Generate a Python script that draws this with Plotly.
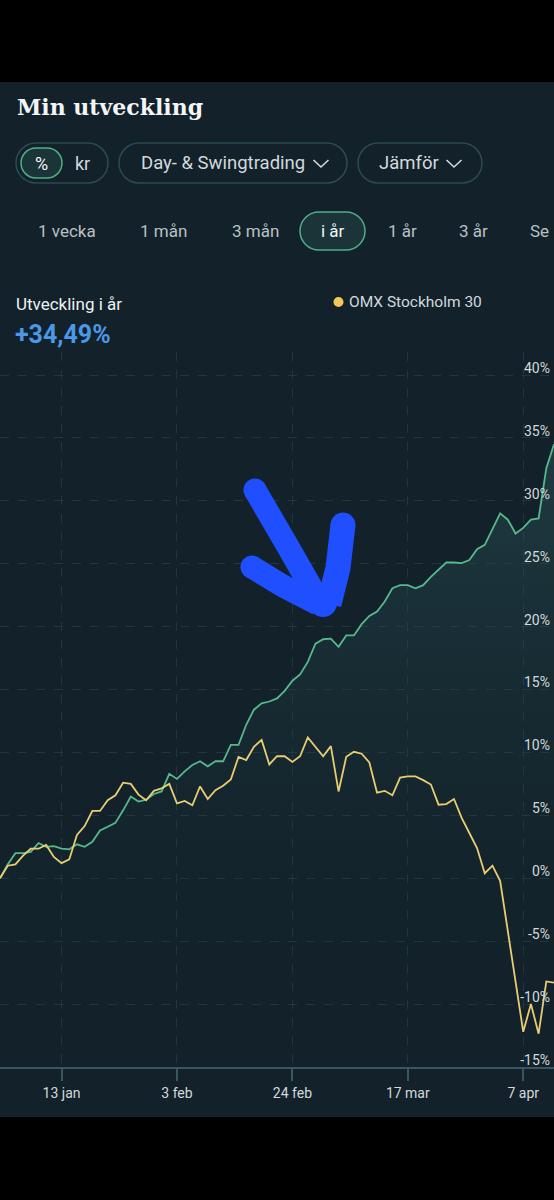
import pandas as pd
import plotly.graph_objects as go

# ---------------- data ----------------
dates = pd.bdate_range("2025-01-01", "2025-04-11")
categories = [d.strftime("%Y-%m-%d") for d in dates]

portfolio = [0.0, 1.1, 2.0, 2.0, 2.1, 2.8, 2.5, 2.55, 2.35, 2.3,
             2.7, 2.5, 2.9, 3.8, 4.1, 4.4, 5.4, 6.5, 6.1, 6.25,
             6.7, 6.9, 8.3, 7.9, 8.5, 9.0, 9.3, 8.9, 9.3, 9.3,
             10.6, 10.6, 12.2, 13.4, 13.9, 14.05, 14.3, 14.9, 15.7, 16.2,
             17.2, 18.65, 19.0, 19.05, 18.4, 19.3, 19.3, 20.2, 20.85, 21.2,
             22.0, 23.05, 23.3, 23.3, 23.05, 23.3, 23.95, 24.5, 25.1, 25.1,
             25.05, 25.3, 26.15, 26.5, 27.7, 29.0, 28.5, 27.4, 27.85, 28.5,
             28.6, 32.6, 34.49]

omx = [0.0, 1.0, 1.1, 1.8, 2.35, 2.35, 2.65, 1.7, 1.2, 1.5,
       3.45, 4.15, 5.35, 5.35, 6.2, 6.6, 7.6, 7.5, 6.65, 6.2,
       6.95, 7.15, 7.5, 5.95, 6.15, 5.8, 7.3, 6.3, 7.0, 7.35,
       7.85, 9.65, 9.4, 10.45, 11.0, 9.05, 9.7, 9.7, 9.25, 9.7,
       11.2, 10.45, 9.7, 10.5, 6.9, 9.65, 10.05, 9.9, 9.2, 6.8,
       6.95, 6.6, 8.0, 8.1, 8.1, 7.8, 7.45, 5.85, 5.9, 6.3,
       4.8, 3.6, 2.4, 0.4, 1.0, -0.2, -4.2, -8.4, -12.2, -10.0,
       -12.35, -8.2, -8.3]

x_tick_dates = ["2025-01-13", "2025-02-03", "2025-02-24", "2025-03-17", "2025-04-07"]
x_tick_labels = ["13 jan", "3 feb", "24 feb", "17 mar", "7 apr"]
y_tick_values = [40, 35, 30, 25, 20, 15, 10, 5, 0, -5, -10, -15]
y_tick_labels = ["40%", "35%", "30%", "25%", "20%", "15%", "10%", "5%", "0%", "-5%", "-10%", "-15%"]

title_text = "Min utveckling"
total_label = "Utveckling i år"
total_value = "+34,49%"
legend_label = "OMX Stockholm 30"
periods = ["1 vecka", "1 mån", "3 mån", "i år", "1 år", "3 år"]

# ---------------- styling ----------------
W, H = 554, 1200
BG = "#12212a"
GREEN = "#55b98c"
YELLOW = "#e8cd72"
GRID = "#23363e"
AXIS = "#3a5660"
TXT = "#d3d9dc"
ARROW = "#1f4fff"
FONT = "Roboto"

Y_MIN, Y_MAX = -15, 41.83
PLOT_TOP, PLOT_BOTTOM = 352, 1067


def px(x):
    return x / W


def py(y):
    return 1 - y / H


def stadium(x0, y0, x1, y1):
    r = (y1 - y0) / 2
    k = 0.5523 * r
    pts = [
        ("M", [(x0 + r, y0)]),
        ("L", [(x1 - r, y0)]),
        ("C", [(x1 - r + k, y0), (x1, y0 + r - k), (x1, y0 + r)]),
        ("C", [(x1, y0 + r + k), (x1 - r + k, y1), (x1 - r, y1)]),
        ("L", [(x0 + r, y1)]),
        ("C", [(x0 + r - k, y1), (x0, y0 + r + k), (x0, y0 + r)]),
        ("C", [(x0, y0 + r - k), (x0 + r - k, y0), (x0 + r, y0)]),
    ]
    s = ""
    for cmd, ps in pts:
        s += cmd + " " + " ".join(f"{px(a):.5f},{py(b):.5f}" for a, b in ps) + " "
    return s + "Z"


def polyline(points):
    return "M " + " L ".join(f"{px(a):.5f},{py(b):.5f}" for a, b in points)


shapes = []
# black bands (top & bottom of screenshot)
shapes.append(dict(type="rect", xref="paper", yref="paper", x0=0, x1=1, y0=py(82), y1=1,
                   fillcolor="#000000", line=dict(width=0), layer="above"))
shapes.append(dict(type="rect", xref="paper", yref="paper", x0=0, x1=1, y0=0, y1=py(1117),
                   fillcolor="#000000", line=dict(width=0), layer="above"))

PILL_LINE = "#2d4a53"
for (a, b, c, d) in [(16, 143, 108, 183), (119, 143, 347, 183), (358, 143, 482, 183)]:
    shapes.append(dict(type="path", xref="paper", yref="paper", path=stadium(a, b, c, d),
                       line=dict(color=PILL_LINE, width=1.5), fillcolor=BG, layer="above"))
# selected pills
shapes.append(dict(type="path", xref="paper", yref="paper", path=stadium(21, 148, 62, 178),
                   line=dict(color="#4fae86", width=1.5), fillcolor="#1b3437", layer="above"))
shapes.append(dict(type="path", xref="paper", yref="paper", path=stadium(300, 212, 365, 250),
                   line=dict(color="#4fae86", width=1.5), fillcolor="#1b3437", layer="above"))
# chevrons
for cx in (321, 454):
    shapes.append(dict(type="path", xref="paper", yref="paper",
                       path=polyline([(cx - 7.5, 160), (cx, 167), (cx + 7.5, 160)]),
                       line=dict(color=TXT, width=1.6), layer="above"))
# legend dot
shapes.append(dict(type="circle", xref="paper", yref="paper",
                   x0=px(333.5), x1=px(343.5), y0=py(307), y1=py(297),
                   fillcolor="#f2c85b", line=dict(width=0), layer="above"))

# hand-drawn blue arrow
AW = 23
shapes.append(dict(type="path", xref="paper", yref="paper",
                   path=polyline([(255, 490), (287, 545), (319, 601)]),
                   line=dict(color=ARROW, width=AW), layer="above"))
shapes.append(dict(type="path", xref="paper", yref="paper",
                   path=polyline([(252, 567), (283, 586), (318, 604)]),
                   line=dict(color=ARROW, width=AW), layer="above"))
shapes.append(dict(type="path", xref="paper", yref="paper",
                   path=polyline([(343, 525), (338, 568), (329, 604)]),
                   line=dict(color=ARROW, width=AW + 2), layer="above"))
for (cx, cy, r) in [(255, 490, 11.5), (252, 567, 11.5), (343, 525, 12.5), (323, 603, 14)]:
    shapes.append(dict(type="circle", xref="paper", yref="paper",
                       x0=px(cx - r), x1=px(cx + r), y0=py(cy + r), y1=py(cy - r),
                       fillcolor=ARROW, line=dict(width=0), layer="above"))

annotations = []


def text(x, y, s, size, color, anchor="left", family=FONT):
    annotations.append(dict(x=px(x), y=py(y), xref="paper", yref="paper", text=s,
                            showarrow=False, xanchor=anchor, yanchor="middle",
                            font=dict(size=size, color=color, family=family)))


text(15, 107, "<b>" + title_text + "</b>", 22, "#f3f5f6", family="DejaVu Serif")
text(41.5, 163, "%", 18, "#f3f5f6", "center")
text(82, 163, "kr", 18, TXT, "center")
text(139, 163, "Day- & Swingtrading", 18.5, TXT)
text(377, 163, "Jämför", 18.5, TXT)
period_x = [66.5, 163, 255, 332.5, 402, 474]
for s, xx in zip(periods, period_x):
    text(xx, 231, s, 17, "#f3f5f6" if s == "i år" else "#b8c1c5", "center")
text(528, 231, "Se", 17, "#b8c1c5")
text(14, 304, total_label, 17, "#eef1f2")
text(13, 334, "<b>" + total_value + "</b>", 25, "#4a98e6")
text(347, 302, legend_label, 15.5, TXT)

# ---------------- figure ----------------
fig = go.Figure()
fig.add_trace(go.Scatter(x=categories, y=[Y_MIN] * len(categories), mode="lines",
                         line=dict(width=0), hoverinfo="skip", showlegend=False))
fig.add_trace(go.Scatter(x=categories, y=portfolio, mode="lines", name="Min utveckling",
                         line=dict(color=GREEN, width=1.8), fill="tonexty",
                         fillgradient=dict(type="vertical", start=Y_MIN, stop=35,
                                           colorscale=[[0, "rgba(18,33,42,0)"],
                                                       [1, "rgba(46,86,90,0.5)"]]),
                         showlegend=False))
fig.add_trace(go.Scatter(x=categories, y=omx, mode="lines", name=legend_label,
                         line=dict(color=YELLOW, width=1.8), showlegend=False))

fig.update_layout(
    width=W, height=H,
    margin=dict(l=0, r=0, t=0, b=0),
    paper_bgcolor=BG, plot_bgcolor=BG,
    shapes=shapes, annotations=annotations,
    showlegend=False,
    font=dict(family=FONT),
    xaxis=dict(type="category", range=[0, len(categories) - 1], domain=[0, 1],
               anchor="y", automargin=False,
               showgrid=True, gridcolor=GRID, griddash="dash", gridwidth=1,
               tickmode="array", tickvals=x_tick_dates, ticktext=x_tick_labels,
               ticks="outside", ticklen=12, tickwidth=1.5, tickcolor=AXIS,
               showline=True, linecolor=AXIS, linewidth=1.5,
               tickfont=dict(size=14, color=TXT, family=FONT), fixedrange=True),
    yaxis=dict(range=[Y_MIN, Y_MAX], domain=[py(PLOT_BOTTOM), py(PLOT_TOP)],
               side="left", anchor="free", position=px(550), automargin=False,
               ticklabelposition="outside", ticklabelshift=-7, ticklabelstandoff=0,
               tickmode="array", tickvals=y_tick_values, ticktext=y_tick_labels,
               showgrid=True, gridcolor=GRID, griddash="dash", gridwidth=1,
               zeroline=False, showline=False, ticks="",
               tickfont=dict(size=14, color=TXT, family=FONT), fixedrange=True),
)

fig.write_html("out.html", config={"displayModeBar": False},
               post_script="document.body.style.margin='0';document.body.style.overflow='hidden';")
